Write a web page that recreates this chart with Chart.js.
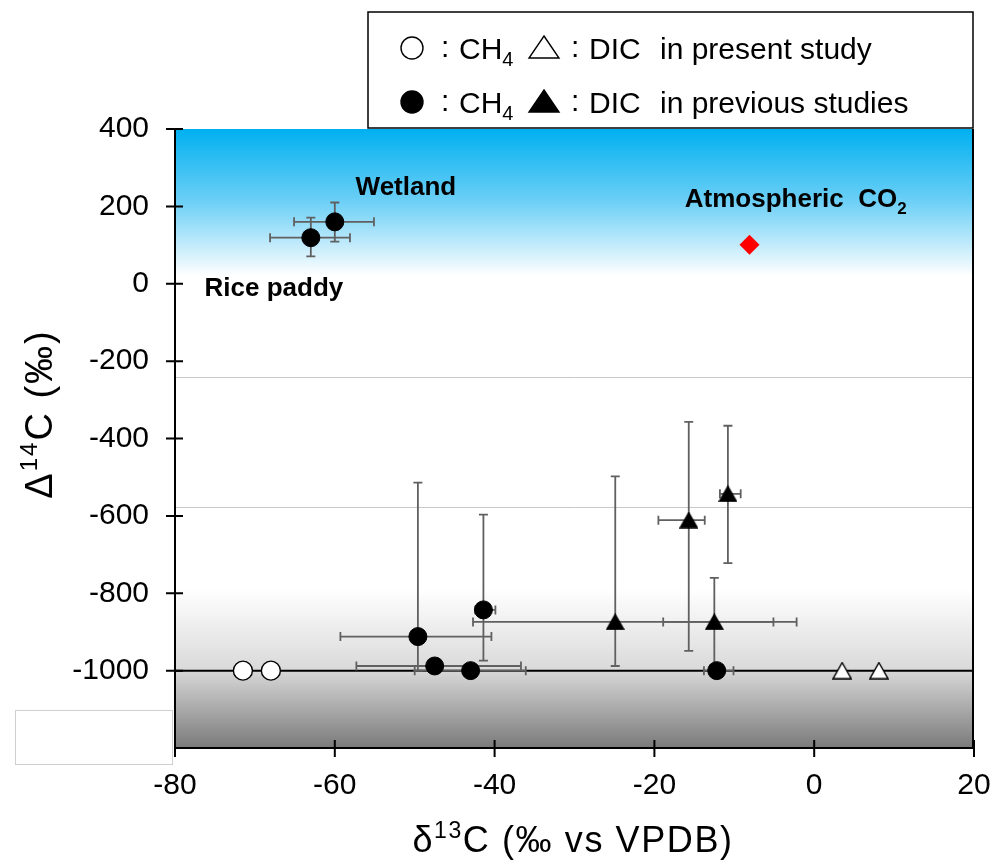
<!DOCTYPE html>
<html>
<head>
<meta charset="utf-8">
<script src="https://cdn.jsdelivr.net/npm/chart.js@4.4.1/dist/chart.umd.min.js"></script>
<style>
  html, body { margin: 0; padding: 0; background: #fff; }
  #wrap { width: 994px; height: 865px; position: relative; }
</style>
</head>
<body>
<div id="wrap"><canvas id="chart"></canvas></div>
<script>
const FONT = "'Liberation Sans', Arial, sans-serif";

const X_TICKS = [-80, -60, -40, -20, 0, 20];
const Y_TICKS = [400, 200, 0, -200, -400, -600, -800, -1000];

// present study
const presentCh4X = [-71.5, -68.0];
const presentCh4Y = [-1000, -1000];
const presentDicX = [3.5, 8.1];
const presentDicY = [-1000, -1000];

// previous studies, CH4 (rice paddy, wetland, ...)
const prevCh4X   = [-63.0, -60.0, -49.6, -47.5, -43.0, -41.4, -12.2];
const prevCh4Y   = [119, 160, -912, -988, -1000, -843, -1000];
const prevCh4XLo = [-68.1, -65.1, -59.3, -57.3, -50.0, -42.4, -13.8];
const prevCh4XHi = [-58.1, -55.1, -40.4, -36.7, -36.1, -39.9, -10.1];
const prevCh4YLo = [71, 109, -1000, null, null, -974, null];
const prevCh4YHi = [171, 210, -514, null, null, -597, null];

// previous studies, DIC
const prevDicX   = [-24.9, -15.7, -12.5, -10.8];
const prevDicY   = [-874, -611, -874, -543];
const prevDicXLo = [-42.7, -19.5, -18.9, -11.8];
const prevDicXHi = [-2.2, -13.7, -5.1, -9.2];
const prevDicYLo = [-988, -949, -1000, -722];
const prevDicYHi = [-498, -357, -760, -367];

const atmCo2X = [-8.1];
const atmCo2Y = [101];

const REF_LINES = [-240, -577];
const BASE_LINE = -1000;

function pts(xs, ys, xlo, xhi, ylo, yhi) {
  return xs.map((x, i) => ({
    x: x, y: ys[i],
    xLo: xlo ? xlo[i] : null, xHi: xhi ? xhi[i] : null,
    yLo: ylo ? ylo[i] : null, yHi: yhi ? yhi[i] : null
  }));
}

// triangle marker centred on its bounding box
function makeTri(fill, w, h) {
  const c = document.createElement('canvas');
  c.width = w + 2; c.height = h + 2;
  const g = c.getContext('2d');
  g.beginPath();
  g.moveTo(c.width / 2, 1);
  g.lineTo(c.width - 1, c.height - 1);
  g.lineTo(1, c.height - 1);
  g.closePath();
  g.fillStyle = fill;
  g.fill();
  g.lineWidth = 1.4;
  g.strokeStyle = '#000';
  g.stroke();
  return c;
}
const triFilled = makeTri('#000', 17, 15);
const triOpen = makeTri('#fff', 18, 16);

function drawRuns(ctx, runs, x, y, align, spacing) {
  ctx.letterSpacing = (spacing || 0) + 'px';
  let total = 0;
  runs.forEach(r => {
    ctx.font = (r.bold ? 'bold ' : '') + r.size + 'px ' + FONT;
    r.w = ctx.measureText(r.t).width;
    total += r.w;
  });
  let cx = align === 'center' ? x - total / 2 : x;
  ctx.textAlign = 'left';
  ctx.textBaseline = 'alphabetic';
  runs.forEach(r => {
    ctx.font = (r.bold ? 'bold ' : '') + r.size + 'px ' + FONT;
    ctx.fillText(r.t, cx, y + (r.dy || 0));
    cx += r.w;
  });
  ctx.letterSpacing = '0px';
}

const backgroundPlugin = {
  id: 'bg',
  beforeDatasetsDraw(chart) {
    const { ctx, chartArea: a, scales: { x, y } } = chart;
    ctx.save();
    ctx.fillStyle = '#fff';
    ctx.fillRect(a.left, a.top, a.right - a.left, a.bottom - a.top);
    // blue band at top
    const b0 = y.getPixelForValue(400), b1 = y.getPixelForValue(20);
    let g = ctx.createLinearGradient(0, b0, 0, b1);
    g.addColorStop(0, 'rgb(0,176,240)');
    g.addColorStop(0.5, 'rgb(110,208,246)');
    g.addColorStop(1, 'rgb(255,255,255)');
    ctx.fillStyle = g;
    ctx.fillRect(a.left, b0, a.right - a.left, b1 - b0);
    // grey band at bottom
    const g0 = y.getPixelForValue(-790), g1 = y.getPixelForValue(-1200);
    g = ctx.createLinearGradient(0, g0, 0, g1);
    g.addColorStop(0, 'rgb(255,255,255)');
    g.addColorStop(0.5, 'rgb(218,218,218)');
    g.addColorStop(1, 'rgb(122,122,122)');
    ctx.fillStyle = g;
    ctx.fillRect(a.left, g0, a.right - a.left, g1 - g0);

    // faint reference lines
    ctx.strokeStyle = '#c8c8c8';
    ctx.lineWidth = 1;
    REF_LINES.forEach(v => {
      const py = Math.round(y.getPixelForValue(v)) + 0.5;
      ctx.beginPath(); ctx.moveTo(a.left, py); ctx.lineTo(a.right, py); ctx.stroke();
    });
    // -1000 line
    const pb = y.getPixelForValue(BASE_LINE);
    ctx.strokeStyle = '#000';
    ctx.lineWidth = 2;
    ctx.beginPath(); ctx.moveTo(a.left, pb); ctx.lineTo(a.right, pb); ctx.stroke();

    // error bars
    ctx.strokeStyle = '#606060';
    ctx.lineWidth = 1.8;
    const cap = 4.5;
    chart.data.datasets.forEach(ds => {
      ds.data.forEach(p => {
        const px = x.getPixelForValue(p.x), py = y.getPixelForValue(p.y);
        if (p.xLo != null) {
          const l = x.getPixelForValue(p.xLo), r = x.getPixelForValue(p.xHi);
          ctx.beginPath();
          ctx.moveTo(l, py); ctx.lineTo(r, py);
          ctx.moveTo(l, py - cap); ctx.lineTo(l, py + cap);
          ctx.moveTo(r, py - cap); ctx.lineTo(r, py + cap);
          ctx.stroke();
        }
        if (p.yLo != null) {
          const t = y.getPixelForValue(p.yHi), bt = y.getPixelForValue(p.yLo);
          ctx.beginPath();
          ctx.moveTo(px, t); ctx.lineTo(px, bt);
          ctx.moveTo(px - cap, t); ctx.lineTo(px + cap, t);
          ctx.moveTo(px - cap, bt); ctx.lineTo(px + cap, bt);
          ctx.stroke();
        }
      });
    });
    ctx.restore();
  },
  afterDraw(chart) {
    const { ctx, chartArea: a, scales: { x, y } } = chart;
    ctx.save();
    // axes
    ctx.strokeStyle = '#000';
    ctx.lineWidth = 2;
    ctx.beginPath();
    ctx.moveTo(a.left, a.top); ctx.lineTo(a.left, a.bottom);
    ctx.moveTo(a.left - 1, a.bottom); ctx.lineTo(a.right, a.bottom);
    ctx.moveTo(a.right - 1, a.top); ctx.lineTo(a.right - 1, a.bottom);
    ctx.stroke();
    ctx.beginPath();
    Y_TICKS.forEach(v => {
      const py = y.getPixelForValue(v);
      ctx.moveTo(a.left - 9, py); ctx.lineTo(a.left + 8, py);
    });
    X_TICKS.forEach(v => {
      const px = x.getPixelForValue(v);
      ctx.moveTo(px, a.bottom - 8); ctx.lineTo(px, a.bottom + 9);
    });
    ctx.stroke();

    // stray empty box at lower left
    ctx.strokeStyle = '#cfcfcf';
    ctx.lineWidth = 1;
    ctx.strokeRect(15.5, 710.5, 157, 54);

    // annotations
    ctx.fillStyle = '#000';
    drawRuns(ctx, [{ t: 'Wetland', size: 26, bold: true }],
      x.getPixelForValue(-57.4), y.getPixelForValue(230));
    drawRuns(ctx, [{ t: 'Rice paddy', size: 26, bold: true }],
      x.getPixelForValue(-76.3), y.getPixelForValue(-31));
    drawRuns(ctx, [{ t: 'Atmospheric  CO', size: 26, bold: true },
                   { t: '2', size: 17, bold: true, dy: 7 }],
      x.getPixelForValue(-16.2), y.getPixelForValue(199));

    // legend box
    ctx.fillStyle = '#fff';
    ctx.fillRect(368, 12, 605, 116);
    ctx.strokeStyle = '#000';
    ctx.lineWidth = 1.5;
    ctx.strokeRect(368, 12, 605, 116);
    const rows = [{ y: 59, filled: false, tail: 'in present study' },
                  { y: 113, filled: true, tail: 'in previous studies' }];
    rows.forEach(r => {
      const cy = r.y - 11;
      ctx.lineWidth = 1.4;
      ctx.strokeStyle = '#000';
      ctx.fillStyle = r.filled ? '#000' : '#fff';
      ctx.beginPath(); ctx.arc(412, cy, 11, 0, Math.PI * 2); ctx.fill(); ctx.stroke();
      ctx.beginPath();
      ctx.moveTo(544, cy - 12); ctx.lineTo(559, cy + 10); ctx.lineTo(529, cy + 10); ctx.closePath();
      ctx.fill(); ctx.stroke();
      ctx.fillStyle = '#000';
      drawRuns(ctx, [{ t: ':', size: 30 }], 441, r.y - 2);
      drawRuns(ctx, [{ t: 'CH', size: 30 }, { t: '4', size: 20, dy: 7 }], 459, r.y);
      drawRuns(ctx, [{ t: ':', size: 30 }], 571, r.y - 2);
      drawRuns(ctx, [{ t: 'DIC', size: 30 }], 589, r.y);
      drawRuns(ctx, [{ t: r.tail, size: 30 }], 660, r.y);
    });

    // axis titles
    ctx.fillStyle = '#000';
    drawRuns(ctx, [{ t: '\u03B4', size: 36 }, { t: '13', size: 23, dy: -14 },
                   { t: 'C (\u2030 vs VPDB)', size: 36 }], 573, 852, 'center', 1.6);
    ctx.translate(52, 414);
    ctx.rotate(-Math.PI / 2);
    drawRuns(ctx, [{ t: '\u0394', size: 38 }, { t: '14', size: 24, dy: -15 },
                   { t: 'C (\u2030)', size: 38 }], 0, 0, 'center', 2);
    ctx.restore();
  }
};

new Chart(document.getElementById('chart'), {
  type: 'scatter',
  data: {
    datasets: [
      { label: 'CH4 present', data: pts(presentCh4X, presentCh4Y),
        pointStyle: 'circle', pointRadius: 9.5, backgroundColor: '#fff', borderColor: '#000', borderWidth: 1.4 },
      { label: 'DIC present', data: pts(presentDicX, presentDicY),
        pointStyle: triOpen },
      { label: 'CH4 previous', data: pts(prevCh4X, prevCh4Y, prevCh4XLo, prevCh4XHi, prevCh4YLo, prevCh4YHi),
        pointStyle: 'circle', pointRadius: 9, backgroundColor: '#000', borderColor: '#000', borderWidth: 1 },
      { label: 'DIC previous', data: pts(prevDicX, prevDicY, prevDicXLo, prevDicXHi, prevDicYLo, prevDicYHi),
        pointStyle: triFilled },
      { label: 'Atmospheric CO2', data: pts(atmCo2X, atmCo2Y),
        pointStyle: 'rectRot', pointRadius: 10, backgroundColor: '#ff0000', borderColor: '#ff0000', borderWidth: 0 }
    ]
  },
  options: {
    responsive: true,
    maintainAspectRatio: false,
    animation: false,
    events: [],
    layout: { padding: { top: 129, right: 20, left: 0, bottom: 0 } },
    plugins: { legend: { display: false }, tooltip: { enabled: false } },
    scales: {
      x: {
        type: 'linear', min: -80, max: 20,
        afterBuildTicks: s => { s.ticks = X_TICKS.map(v => ({ value: v })); },
        afterFit: s => { s.height = 117; s.paddingLeft = 0; s.paddingRight = 0; },
        grid: { display: false, drawTicks: false },
        border: { display: false },
        ticks: { padding: 20, color: '#000', font: { size: 30, family: FONT }, maxRotation: 0,
                 callback: v => String(v) }
      },
      y: {
        type: 'linear', min: -1200, max: 400,
        afterBuildTicks: s => { s.ticks = Y_TICKS.map(v => ({ value: v })); },
        afterFit: s => { s.width = 175; s.paddingTop = 0; s.paddingBottom = 0; },
        grid: { display: false, drawTicks: false },
        border: { display: false },
        ticks: { padding: 26, color: '#000', font: { size: 30, family: FONT },
                 callback: v => String(v) }
      }
    }
  },
  plugins: [backgroundPlugin]
});
</script>
</body>
</html>
